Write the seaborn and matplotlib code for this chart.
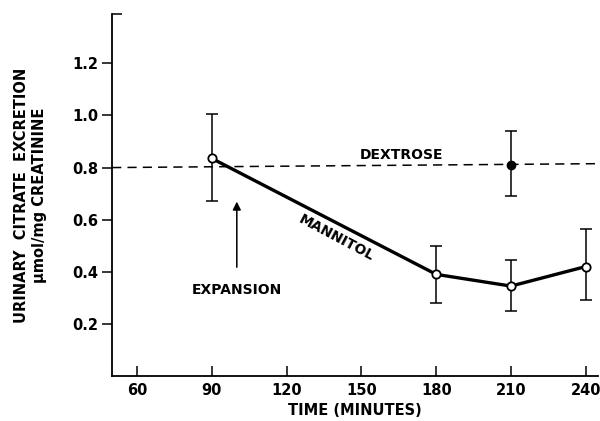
import numpy as np
import pandas as pd
import matplotlib
matplotlib.use("Agg")
import matplotlib.pyplot as plt
import seaborn as sns

# datos
mannitol_time = [90, 180, 210, 240]
mannitol_value = [0.835, 0.39, 0.345, 0.42]
mannitol_low = [0.67, 0.28, 0.25, 0.29]
mannitol_high = [1.005, 0.50, 0.445, 0.565]

dextrose_time = [210]
dextrose_value = [0.81]
dextrose_low = [0.69]
dextrose_high = [0.94]

dextrose_line_time = [50, 245]
dextrose_line_value = [0.80, 0.815]

x_ticks = [60, 90, 120, 150, 180, 210, 240]
y_ticks = [0.2, 0.4, 0.6, 0.8, 1.0, 1.2]

sns.set_style("ticks")
plt.rcParams["font.family"] = ["DejaVu Sans Condensed", "Liberation Sans Narrow", "DejaVu Sans"]
plt.rcParams["font.weight"] = "bold"
plt.rcParams["text.color"] = "black"
plt.rcParams["axes.labelcolor"] = "black"
plt.rcParams["xtick.color"] = "black"
plt.rcParams["ytick.color"] = "black"
plt.rcParams["axes.edgecolor"] = "black"

fig = plt.figure(figsize=(6, 4.21), dpi=100)
ax = fig.add_axes([0.187, 0.107, 0.81, 0.86])

df_m = pd.DataFrame({"time": mannitol_time, "value": mannitol_value})
df_d = pd.DataFrame({"time": dextrose_line_time, "value": dextrose_line_value})

# linea discontinua de dextrosa
sns.lineplot(data=df_d, x="time", y="value", ax=ax, color="black",
             linestyle=(0, (6, 4)), linewidth=1.1)

# barras de error
ax.errorbar(mannitol_time, mannitol_value,
            yerr=[np.subtract(mannitol_value, mannitol_low), np.subtract(mannitol_high, mannitol_value)],
            fmt="none", ecolor="black", elinewidth=1.1, capsize=4, capthick=1.1)
ax.errorbar(dextrose_time, dextrose_value,
            yerr=[np.subtract(dextrose_value, dextrose_low), np.subtract(dextrose_high, dextrose_value)],
            fmt="none", ecolor="black", elinewidth=1.1, capsize=4, capthick=1.1)

# linea de manitol
sns.lineplot(data=df_m, x="time", y="value", ax=ax, color="black", linewidth=2.4,
             marker="o", markersize=6, markerfacecolor="white",
             markeredgecolor="black", markeredgewidth=1.3)
ax.plot(dextrose_time, dextrose_value, "o", color="black", markersize=6, zorder=5)

ax.text(166, 0.85, "DEXTROSE", ha="center", va="center", fontsize=10, fontweight="bold")
ax.text(140, 0.53, "MANNITOL", ha="center", va="center", fontsize=10, fontweight="bold",
        rotation=-28)
ax.annotate("EXPANSION", xy=(100, 0.68), xytext=(100, 0.33), ha="center", va="center",
            fontsize=10, fontweight="bold",
            arrowprops=dict(arrowstyle="-|>", color="black", lw=1.1, shrinkA=9, mutation_scale=12))

ax.set_xlim(50, 245)
ax.set_ylim(0, 1.39)
ax.set_xticks(x_ticks)
ax.set_xticklabels([str(t) for t in x_ticks])
ax.set_yticks(y_ticks)
ax.set_yticklabels([f"{t:.1f}" for t in y_ticks])
ax.set_yticks([1.39], minor=True)

ax.tick_params(axis="x", direction="in", length=7, width=1.1, labelsize=10.5, pad=5)
ax.tick_params(axis="y", direction="out", length=7, width=1.1, labelsize=10.5, pad=3)
ax.tick_params(axis="y", which="minor", direction="in", length=7, width=1.1)

ax.set_xlabel("TIME (MINUTES)", fontsize=10.5, fontweight="bold", labelpad=4)
ax.set_ylabel("URINARY  CITRATE  EXCRETION\nμmol/mg CREATININE", fontsize=10.5,
              fontweight="bold", labelpad=18, linespacing=1.3)

sns.despine(ax=ax)
for s in ["left", "bottom"]:
    ax.spines[s].set_linewidth(1.3)

fig.savefig("out.png", dpi=100)
